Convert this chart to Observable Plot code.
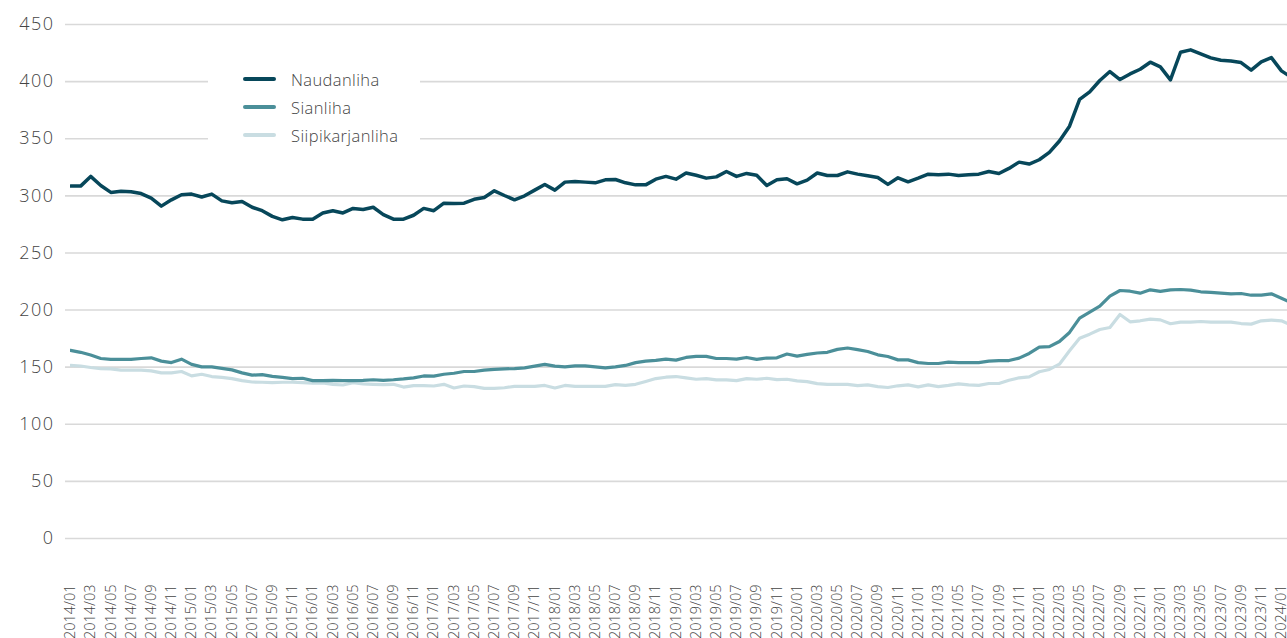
<!DOCTYPE html>
<html>
<head>
<meta charset="utf-8">
<script src="https://cdn.jsdelivr.net/npm/d3@7"></script>
<script src="https://cdn.jsdelivr.net/npm/@observablehq/plot@0.6"></script>
<style>
  html, body { margin: 0; padding: 0; background: #fff; }
  #wrap { position: relative; width: 1287px; height: 638px; overflow: hidden; }
  #wrap svg { font-family: "Open Sans", Roboto, sans-serif; font-weight: 300; }
  #wrap svg g[aria-label="y-axis tick label"] text { letter-spacing: 1.5px; }
  #legend {
    position: absolute; left: 208px; top: 56px; width: 212px; height: 100px;
    background: #fff; font-family: "Open Sans", Roboto, sans-serif; font-weight: 300;
    font-size: 16.5px; letter-spacing: 0.4px; color: #444;
  }
  .item { position: absolute; left: 35px; height: 20px; display: flex; align-items: center; white-space: nowrap; }
  .sw { width: 33px; height: 3.4px; border-radius: 2px; margin-right: 15px; }
</style>
</head>
<body>
<div id="wrap"></div>
<script>
// Categories: months 2014/01 .. 2024/02 (last one is cut off by the right edge)
const months = [];
for (let y = 2014; y <= 2024; y++) for (let m = 1; m <= 12; m++) {
  if (y === 2024 && m > 2) break;
  months.push(`${y}/${String(m).padStart(2, "0")}`);
}

const seriesNames = ["Naudanliha", "Sianliha", "Siipikarjanliha"];
const seriesColors = ["#07475a", "#4b8f99", "#c9dde2"];
const seriesWidths = [3.5, 3.2, 3.2];

const naudanliha = [308.5,308.5,317,309,303,304,303.5,302,298,291,296.5,301,
301.5,299,301.5,295.6,294,295,290,287,282,279,281,279.6,
279.6,285,287,285,289,288,290,283.6,279.6,279.6,283,289,
287,293.6,293.3,293.6,297,298.5,304.4,300.3,296.5,300,305,310,
305,312,312.5,312,311.4,314,314.3,311.4,309.6,309.6,314.6,317,
314.6,320,318,315.5,316.6,321.3,317,319.6,318,309,314,315,
310.5,313.7,320,317.8,317.8,321,319,317.5,316,310,315.8,312.3,
315.5,319,318.4,319,317.8,318.4,319,321.3,319.6,324,329.5,327.8,
331.6,338,348,361,384.5,391,401,408.8,401.8,406.7,410.8,417,
412.9,401.5,425.7,427.8,424.3,420.8,418.7,418,416.7,410,417.3,421,
409.4,403.7];

const sianliha = [164.7,163,160.6,157.6,156.8,156.8,156.8,157.6,158.2,155.3,154,157,
152.4,150.3,150.3,149,147.6,145,143,143.5,142,141,140,140.3,
138.2,138.2,138.5,138.2,138.2,138.5,139,138.5,139,139.7,140.6,142.3,
142.2,143.8,144.7,146.2,146.2,147.4,148,148.5,148.8,149.4,150.9,152.4,
150.9,150.3,151.2,151.2,150.3,149.4,150.3,151.5,154,155.3,155.9,157,
156.2,158.5,159.4,159.4,157.6,157.6,157,158.5,156.8,158,158.2,161.5,
159.7,161.2,162.4,163,165.6,166.8,165.3,163.7,160.8,159.3,156.4,156.4,
154,153.2,153.2,154.4,154,154,154,155.3,155.8,155.8,157.9,162,
167.5,168,172.5,180.4,192.9,198.2,203.4,212.2,217.1,216.5,214.8,217.7,
216.3,217.7,218,217.4,216,215.4,214.8,214.2,214.5,213,213,214.2,
210.4,206.4];

const siipikarjanliha = [151.5,151,149.7,148.8,148.5,147.4,147.4,147.4,146.8,145,145,146.2,
142.4,143.8,141.8,141,140,138.2,137,136.8,136.5,136.8,136.8,136.5,
136,136.2,135,134.4,136.5,135.3,135,134.7,135,132.6,133.8,133.8,
133.5,135,131.8,133.5,133,131.5,131.5,132,133.2,133.2,133.2,134,
131.8,134,133.2,133.2,133.2,133.2,134.7,134,135,137.4,140,141.2,
141.8,140.6,139.4,140,138.8,138.8,138.2,140,139.4,140.3,139.1,139.4,
138,137.4,135.6,135,135,135,133.8,134.5,133,132.2,133.7,134.5,
132.8,134.5,133,134,135.4,134.5,134,135.7,135.7,138.6,140.7,141.5,
146,148,152.6,164.3,175.4,178.9,183,184.7,196.1,189.7,190.6,192,
191.4,188,189.4,189.4,190,189.4,189.4,189.4,188.2,187.7,190.6,191.2,
190.6,186.6];

const yTicks = [0, 50, 100, 150, 200, 250, 300, 350, 400, 450];
const xTicks = months.map((m, i) => i).filter(i => i % 2 === 0 && i <= 120);

const seriesValues = [naudanliha, sianliha, siipikarjanliha];
const rows = seriesNames.flatMap((name, s) =>
  seriesValues[s].map((v, i) => ({series: name, i, value: v})));

const chart = Plot.plot({
  width: 1287,
  height: 638,
  marginTop: 24,
  marginBottom: 100,
  marginLeft: 70,
  marginRight: 0,
  x: {type: "linear", domain: [0, 120.6]},
  y: {domain: [0, 450]},
  color: {domain: seriesNames, range: seriesColors},
  marks: [
    Plot.ruleY(yTicks, {stroke: "#d9d9d9", strokeWidth: 1.6, insetLeft: -5}),
    Plot.axisY({ticks: yTicks, tickSize: 0, tickPadding: 16, fontSize: 18, fill: "#444", label: null}),
    Plot.axisX({ticks: xTicks, tickFormat: i => months[i], tickSize: 0, tickPadding: 46,
      tickRotate: -90, fontSize: 14.5, fill: "#444", label: null}),
    ...seriesNames.map((name, s) =>
      Plot.lineY(rows.filter(r => r.series === name),
        {x: "i", y: "value", stroke: seriesColors[s], strokeWidth: seriesWidths[s],
         strokeLinejoin: "round", strokeLinecap: "round", clip: true})
    ).reverse()
  ]
});

const wrap = document.getElementById("wrap");
wrap.appendChild(chart);

const legend = document.createElement("div");
legend.id = "legend";
seriesNames.forEach((name, s) => {
  const item = document.createElement("div");
  item.className = "item";
  item.style.top = (13 + s * 28) + "px";
  const sw = document.createElement("span");
  sw.className = "sw";
  sw.style.background = seriesColors[s];
  const t = document.createElement("span");
  t.textContent = name;
  item.appendChild(sw);
  item.appendChild(t);
  legend.appendChild(item);
});
wrap.appendChild(legend);
</script>
</body>
</html>
